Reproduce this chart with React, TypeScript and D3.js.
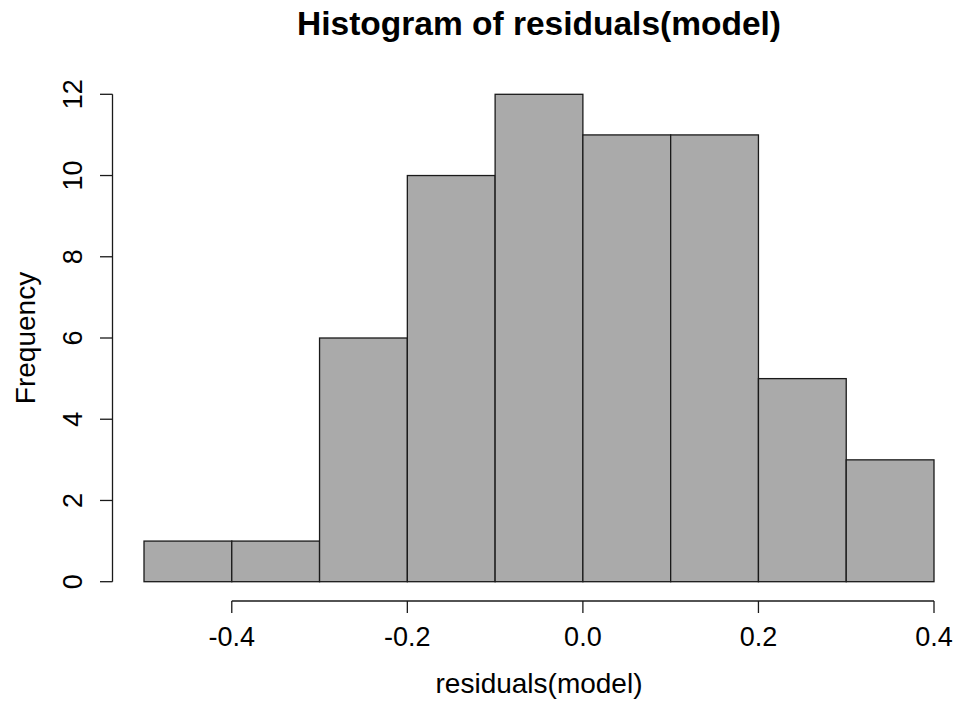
import * as d3 from 'd3';
import { useEffect, useRef } from 'react';

const width = 956;
const height = 704;

// histogram bins (left edges) and counts
const binStarts = [-0.5, -0.4, -0.3, -0.2, -0.1, 0.0, 0.1, 0.2, 0.3];
const binWidth = 0.1;
const counts = [1, 1, 6, 10, 12, 11, 11, 5, 3];
const xTicks = [-0.4, -0.2, 0.0, 0.2, 0.4];
const yTicks = [0, 2, 4, 6, 8, 10, 12];

const title = 'Histogram of residuals(model)';
const xLabel = 'residuals(model)';
const yLabel = 'Frequency';

const font = "'Liberation Sans', Arial, Helvetica, sans-serif";

const App = () => {
  const svgRef = useRef<SVGSVGElement>(null);

  useEffect(() => {
    const svg = d3.select(svgRef.current);
    svg.selectAll('*').remove();

    const x = d3.scaleLinear().domain([-0.5, 0.4]).range([144, 934]);
    const y = d3.scaleLinear().domain([0, 12]).range([581.7, 94.3]);

    svg.append('rect').attr('width', width).attr('height', height).attr('fill', '#fff');

    // bars
    svg
      .append('g')
      .selectAll('rect')
      .data(counts)
      .enter()
      .append('rect')
      .attr('x', (d, i) => x(binStarts[i]))
      .attr('width', (d, i) => x(binStarts[i] + binWidth) - x(binStarts[i]))
      .attr('y', (d) => y(d))
      .attr('height', (d) => y(0) - y(d))
      .attr('fill', '#aaaaaa')
      .attr('stroke', '#1a1a1a')
      .attr('stroke-width', 1.3);

    // x axis (R style, offset below)
    const xAxisY = 601;
    const gx = svg.append('g');
    gx.append('line')
      .attr('x1', x(xTicks[0]))
      .attr('x2', x(xTicks[xTicks.length - 1]))
      .attr('y1', xAxisY)
      .attr('y2', xAxisY)
      .attr('stroke', '#1a1a1a')
      .attr('stroke-width', 1.3);
    gx.selectAll('line.tick')
      .data(xTicks)
      .enter()
      .append('line')
      .attr('class', 'tick')
      .attr('x1', (d) => x(d))
      .attr('x2', (d) => x(d))
      .attr('y1', xAxisY)
      .attr('y2', xAxisY + 12)
      .attr('stroke', '#1a1a1a')
      .attr('stroke-width', 1.3);
    gx.selectAll('text')
      .data(xTicks)
      .enter()
      .append('text')
      .attr('x', (d) => x(d))
      .attr('y', 646)
      .attr('text-anchor', 'middle')
      .style('font-family', font)
      .style('font-size', '27px')
      .text((d) => d3.format('.1f')(d).replace('−', '-'));

    // y axis
    const yAxisX = 112.5;
    const gy = svg.append('g');
    gy.append('line')
      .attr('x1', yAxisX)
      .attr('x2', yAxisX)
      .attr('y1', y(yTicks[0]))
      .attr('y2', y(yTicks[yTicks.length - 1]))
      .attr('stroke', '#1a1a1a')
      .attr('stroke-width', 1.3);
    gy.selectAll('line.tick')
      .data(yTicks)
      .enter()
      .append('line')
      .attr('class', 'tick')
      .attr('x1', yAxisX - 12.5)
      .attr('x2', yAxisX)
      .attr('y1', (d) => y(d))
      .attr('y2', (d) => y(d))
      .attr('stroke', '#1a1a1a')
      .attr('stroke-width', 1.3);
    gy.selectAll('text')
      .data(yTicks)
      .enter()
      .append('text')
      .attr('transform', (d) => `translate(82,${y(d)}) rotate(-90)`)
      .attr('text-anchor', 'middle')
      .style('font-family', font)
      .style('font-size', '27px')
      .text((d) => String(d));

    // title and axis labels
    svg
      .append('text')
      .attr('x', 539)
      .attr('y', 35)
      .attr('text-anchor', 'middle')
      .style('font-family', font)
      .style('font-size', '33.5px')
      .style('font-weight', 'bold')
      .text(title);

    svg
      .append('text')
      .attr('x', 539)
      .attr('y', 693)
      .attr('text-anchor', 'middle')
      .style('font-family', font)
      .style('font-size', '28px')
      .text(xLabel);

    svg
      .append('text')
      .attr('transform', `translate(35,338) rotate(-90)`)
      .attr('text-anchor', 'middle')
      .style('font-family', font)
      .style('font-size', '28px')
      .text(yLabel);
  }, []);

  return (
    <svg
      ref={svgRef}
      width={width}
      height={height}
      style={{ position: 'absolute', left: 0, top: 0, display: 'block' }}
    />
  );
};

export default App;
